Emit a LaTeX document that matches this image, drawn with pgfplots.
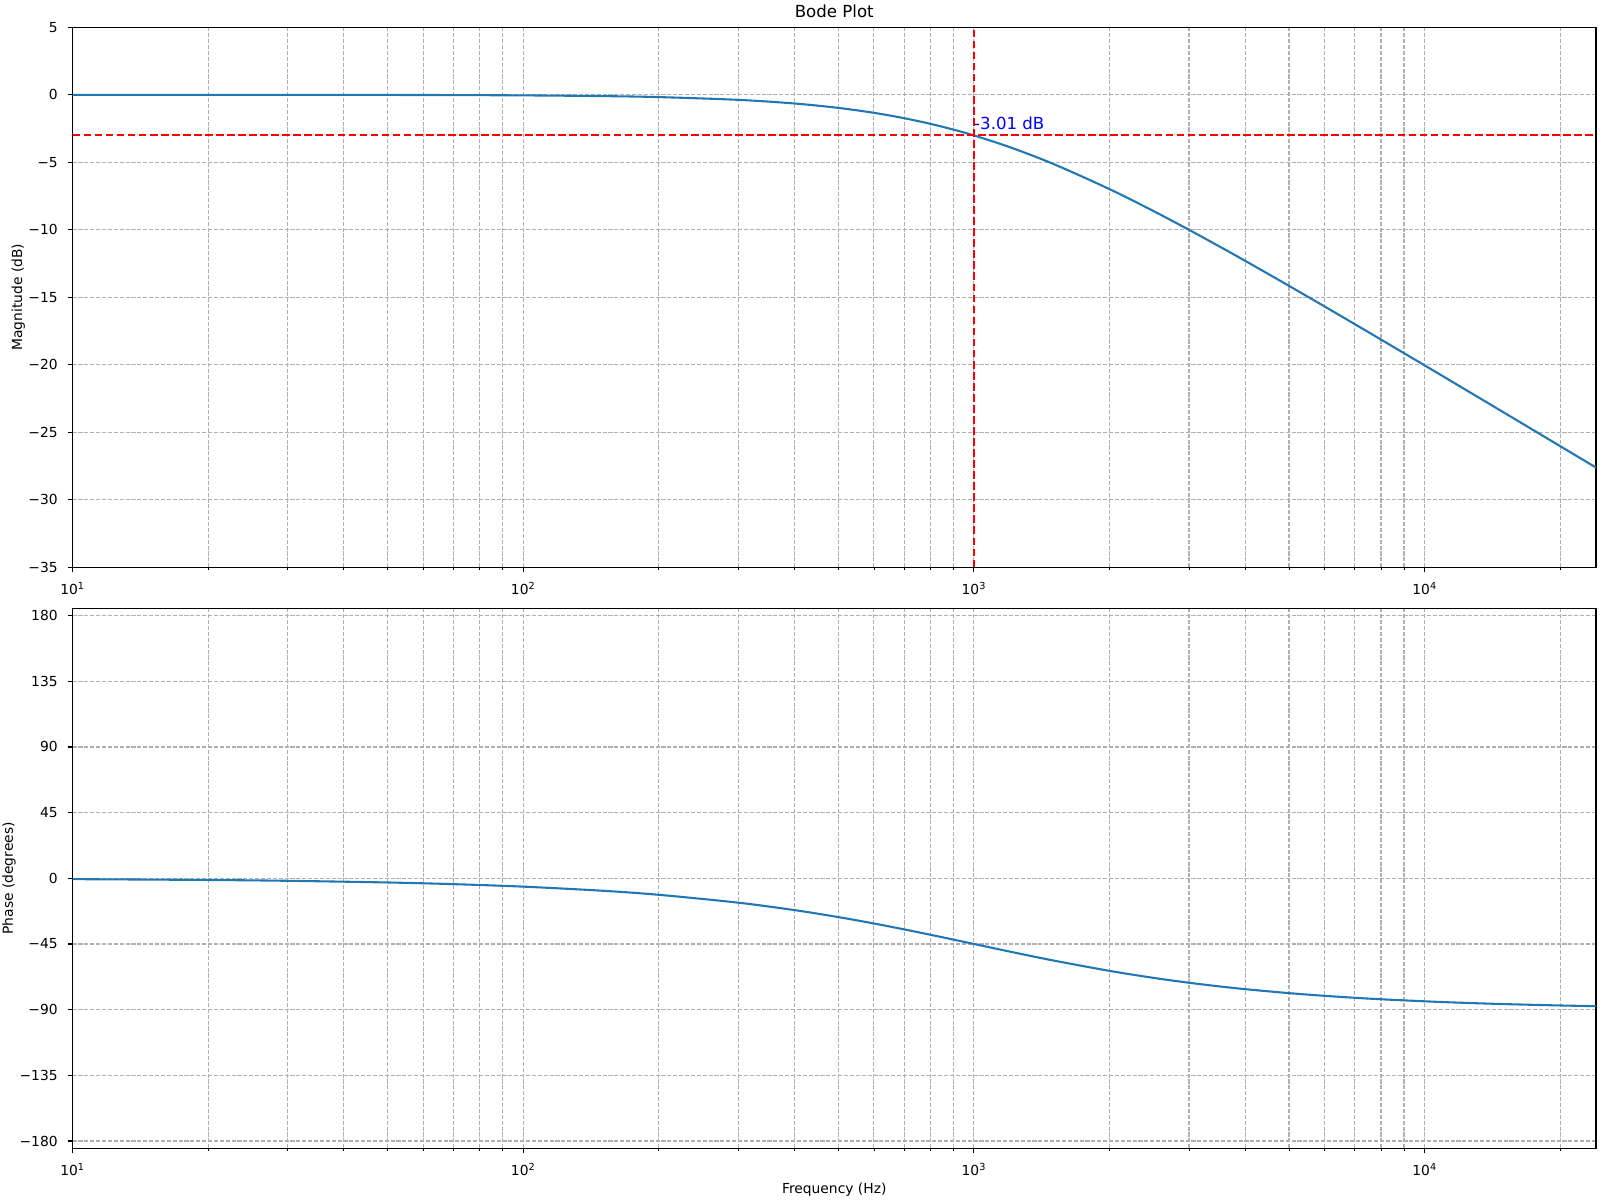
\documentclass[border=0pt]{standalone}
\usepackage{pgfplots}
\pgfplotsset{compat=1.18}
\usepackage{pgfplotstable}
\usepackage{fontspec}
\setmainfont{DejaVu Sans}
\definecolor{mplblue}{HTML}{1F77B4}
\definecolor{gridgray}{HTML}{B0B0B0}
\pgfplotstableread{
f mag phase
10 -0.000434 -0.573
20 -0.00174 -1.146
30 -0.0039 -1.718
50 -0.01084 -2.862
70 -0.0212 -4.004
100 -0.0432 -5.711
150 -0.0966 -8.531
200 -0.1703 -11.310
300 -0.3743 -16.699
400 -0.6446 -21.801
500 -0.9691 -26.565
600 -1.3354 -30.964
700 -1.7319 -34.992
800 -2.1484 -38.660
900 -2.5768 -41.987
1000 -3.0103 -45.000
1200 -3.8739 -50.194
1500 -5.1188 -56.310
2000 -6.9897 -63.435
2500 -8.6034 -68.199
3000 -10.0000 -71.565
3500 -11.2222 -74.055
4000 -12.3045 -75.964
5000 -14.1497 -78.690
6000 -15.6820 -80.538
7000 -16.9897 -81.870
8000 -18.1291 -82.875
10000 -20.0432 -84.289
12000 -21.6137 -85.236
15000 -23.5411 -86.186
20000 -26.0314 -87.138
24000 -27.6118 -87.614
}\bode
\pgfplotsset{
  every axis/.append style={
    scale only axis, width=15.235in, height=5.40in,
    xmin=10, xmax=24000,
    axis line style={line width=0.8bp},
    tick align=outside, xtick pos=bottom, ytick pos=left,
    major tick length=3.5bp, minor tick length=2bp,
    every tick/.style={black, line width=0.8bp},
    every minor tick/.style={black, line width=0.6bp},
    xtick={10,100,1000,10000},
    xticklabels={10\textsuperscript{1},10\textsuperscript{2},10\textsuperscript{3},10\textsuperscript{4}},
    minor xtick={20,30,40,50,60,70,80,90,200,300,400,500,600,700,800,900,2000,3000,4000,5000,6000,7000,8000,9000,20000},
    xmajorgrids, xminorgrids, ymajorgrids,
    major grid style={gridgray, line width=0.8bp, dash pattern=on 2.96bp off 1.28bp},
    minor grid style={gridgray, line width=0.8bp, dash pattern=on 2.96bp off 1.28bp},
    xticklabel style={anchor=north, inner sep=0pt, yshift=-7bp, font=\fontsize{10}{12}\selectfont},
    yticklabel style={anchor=east, inner sep=0pt, xshift=-7bp, font=\fontsize{10}{12}\selectfont},
    label style={font=\fontsize{10}{12}\selectfont},
  }
}
\begin{document}
\begin{tikzpicture}
\useasboundingbox (0,0) rectangle (16in,12in);
\begin{semilogxaxis}[
  at={(0.725in,6.327in)}, anchor=south west,
  ymin=-35, ymax=5,
  ytick={5,0,-5,-10,-15,-20,-25,-30,-35},
  yticklabels={5,0,−5,−10,−15,−20,−25,−30,−35},
  ylabel={Magnitude (dB)},
  every axis y label/.style={at={(axis description cs:0,0.5)}, anchor=center, xshift=-39bp, rotate=90},
  title={Bode Plot},
  every axis title/.style={at={(axis description cs:0.5,1)}, anchor=base, yshift=7.06bp, inner sep=0pt, font=\fontsize{12}{14.4}\selectfont},
]
\addplot[mplblue, line width=1.5bp, smooth] table[x=f, y=mag] {\bode};
\addplot[red, line width=1.5bp, dash pattern=on 5.55bp off 2.4bp] coordinates {(10,-3.01) (24000,-3.01)};
\addplot[red, line width=1.5bp, dash pattern=on 5.55bp off 2.4bp] coordinates {(1000,-35) (1000,5)};
\node[anchor=base west, inner sep=0pt, yshift=4bp, text=blue, font=\fontsize{12}{14.4}\selectfont] at (axis cs:1000,-3.01) {-3.01 dB};
\end{semilogxaxis}
\begin{semilogxaxis}[
  at={(0.725in,0.517in)}, anchor=south west,
  ymin=-185, ymax=185,
  ytick={180,135,90,45,0,-45,-90,-135,-180},
  yticklabels={180,135,90,45,0,−45,−90,−135,−180},
  ylabel={Phase (degrees)},
  every axis y label/.style={at={(axis description cs:0,0.5)}, anchor=center, xshift=-45.6bp, rotate=90},
  xlabel={Frequency (Hz)},
  every axis x label/.style={at={(axis description cs:0.5,0)}, anchor=base, yshift=-32.4bp, inner sep=0pt},
]
\addplot[mplblue, line width=1.5bp, smooth] table[x=f, y=phase] {\bode};
\end{semilogxaxis}
\end{tikzpicture}
\end{document}
